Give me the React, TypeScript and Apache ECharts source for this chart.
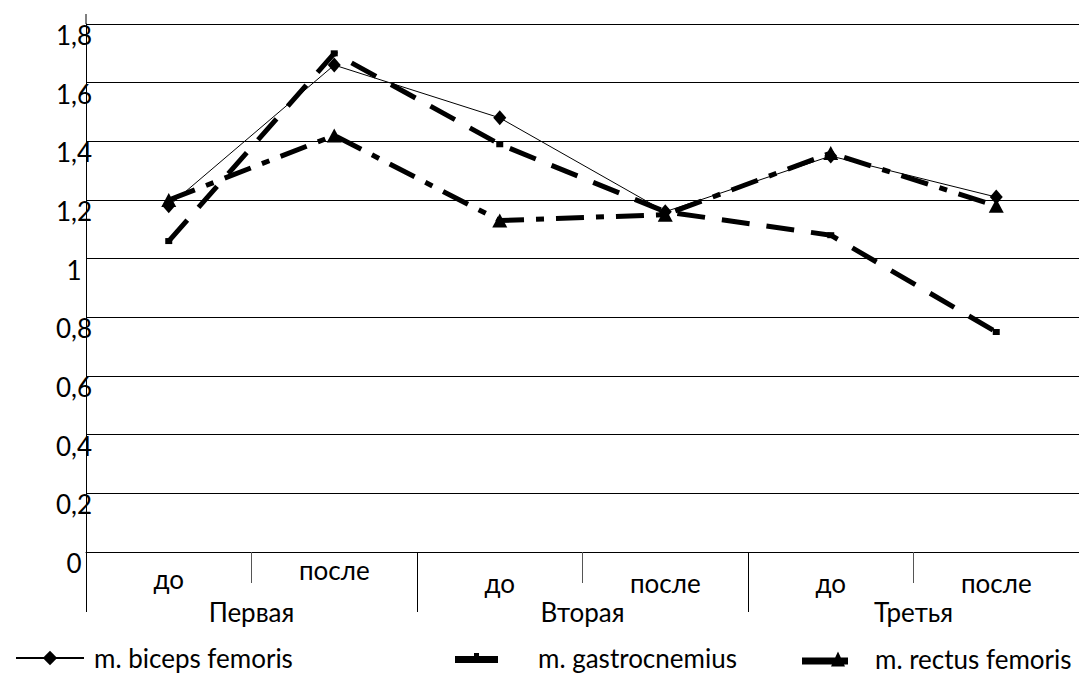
import React, { useEffect, useRef } from "react";
import * as echarts from "echarts";

const categories = ["до", "после", "до", "после", "до", "после"];
const groups = ["Первая", "Вторая", "Третья"];
const bicepsValues = [1.18, 1.66, 1.48, 1.16, 1.35, 1.21];
const gastroValues = [1.06, 1.7, 1.39, 1.16, 1.08, 0.75];
const rectusValues = [1.2, 1.42, 1.13, 1.15, 1.36, 1.18];
const seriesNames = ["m. biceps femoris", "m. gastrocnemius", "m. rectus femoris"];

const FONT = "Lato";
const FS = 26;

export default function App() {
  const ref = useRef<HTMLDivElement>(null);
  useEffect(() => {
    if (!ref.current) return;
    const chart = echarts.init(ref.current, undefined, { renderer: "svg" });
    const labelStyles = ["lo", "hi", "n", "n", "n", "n"];
    chart.setOption({
      animation: false,
      backgroundColor: "#fff",
      textStyle: { fontFamily: FONT, color: "#000" },
      grid: { left: 86, top: 24, width: 1002, height: 528 },
      xAxis: [
        {
          type: "category",
          data: categories,
          boundaryGap: true,
          position: "bottom",
          axisLine: { show: true, lineStyle: { color: "#000", width: 1 } },
          axisTick: { show: true, length: 31, interval: 0, lineStyle: { color: "#555", width: 1 } },
          axisLabel: {
            interval: 0,
            margin: 10,
            color: "#000",
            fontFamily: FONT,
            fontSize: FS,
            formatter: (v: string, i: number) => `{${labelStyles[i]}|${v}}`,
            rich: {
              n: { fontFamily: FONT, fontSize: FS, color: "#000", padding: [8, 0, 0, 0] },
              lo: { fontFamily: FONT, fontSize: FS, color: "#000", padding: [4, 0, 0, 0] },
              hi: { fontFamily: FONT, fontSize: FS, color: "#000", padding: [-5, 0, 0, 0] },
            },
          },
          splitLine: { show: false },
        },
        {
          type: "category",
          data: groups,
          position: "bottom",
          boundaryGap: true,
          axisLine: { show: false },
          axisTick: { show: true, length: 60, interval: 0, lineStyle: { color: "#000", width: 1 } },
          axisLabel: { interval: 0, margin: 47, color: "#000", fontFamily: FONT, fontSize: FS },
          splitLine: { show: false },
        },
      ],
      yAxis: {
        type: "value",
        min: 0,
        max: 1.8,
        interval: 0.2,
        axisLine: { show: true, lineStyle: { color: "#000", width: 1 } },
        axisTick: { show: false },
        splitLine: { show: true, lineStyle: { color: "#000", width: 1 } },
        axisLabel: {
          align: "center",
          margin: 12,
          verticalAlign: "top",
          lineHeight: 22,
          color: "#000",
          fontFamily: FONT,
          fontSize: FS,
          formatter: (v: number) => (v === 0 ? "0" : String(+v.toFixed(1)).replace(".", ",")),
        },
      },
      legend: [
        {
          data: [seriesNames[0]],
          left: 10,
          top: 640,
          itemWidth: 68,
          itemHeight: 18,
          itemGap: 0,
          textStyle: { fontFamily: FONT, fontSize: FS, color: "#000", padding: [0, 0, 0, 5] },
        },
        {
          data: [{ name: seriesNames[1], icon: "path://M0 3 L19 3 L19 0 L24 0 L24 3 L43 3 L43 10 L0 10 Z" }],
          left: 450,
          top: 640,
          itemWidth: 43,
          itemHeight: 10,
          textStyle: { fontFamily: FONT, fontSize: FS, color: "#000", padding: [0, 0, 0, 35] },
        },
        {
          data: [{ name: seriesNames[2], icon: "path://M0 6 L46 6 L46 13 L0 13 Z M36 0 L43 15 L29 15 Z" }],
          left: 797,
          top: 641,
          itemWidth: 46,
          itemHeight: 15,
          textStyle: { fontFamily: FONT, fontSize: FS, color: "#000", padding: [6, 0, 0, 22] },
        },
      ],
      graphic: [
        { type: "line", shape: { x1: 86, y1: 14, x2: 86, y2: 24 }, style: { stroke: "#000", lineWidth: 1 } },
      ],
      series: [
        {
          name: seriesNames[0],
          type: "line",
          data: bicepsValues,
          symbol: "diamond",
          symbolSize: [13, 15],
          lineStyle: { color: "#000", width: 1 },
          itemStyle: { color: "#000" },
          z: 4,
        },
        {
          name: seriesNames[1],
          type: "line",
          data: gastroValues,
          symbol: "rect",
          symbolSize: [7, 6],
          lineStyle: { color: "#000", width: 5, type: [28, 17], cap: "butt" },
          itemStyle: { color: "#000" },
          z: 3,
        },
        {
          name: seriesNames[2],
          type: "line",
          data: rectusValues,
          symbol: "triangle",
          symbolSize: [15, 14],
          lineStyle: { color: "#000", width: 5, type: [28, 12, 8, 12], cap: "butt" },
          itemStyle: { color: "#000" },
          z: 3,
        },
      ],
    });
    return () => chart.dispose();
  }, []);
  return <div ref={ref} style={{ position: "absolute", left: 0, top: 0, width: 1079, height: 675 }} />;
}
